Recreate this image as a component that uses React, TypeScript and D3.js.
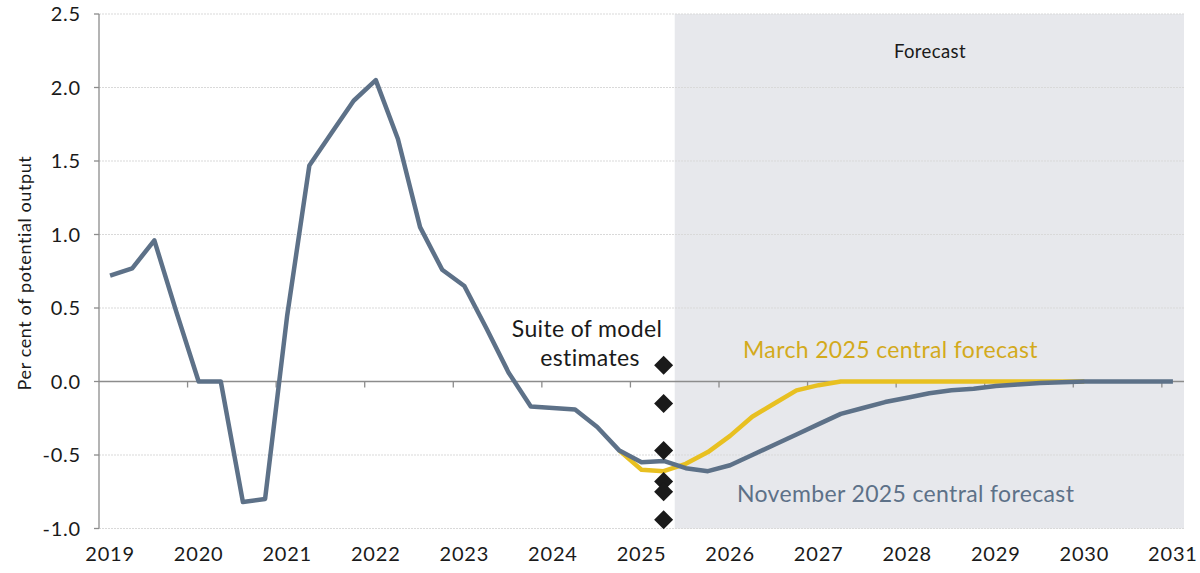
import React from "react";
import * as d3 from "d3";

const years = [2019, 2020, 2021, 2022, 2023, 2024, 2025, 2026, 2027, 2028, 2029, 2030, 2031];
const quarters: string[] = [];
for (let y = 2019; y <= 2031; y++) {
  for (let q = 1; q <= 4; q++) {
    if (y === 2031 && q > 1) break;
    quarters.push(`${y}Q${q}`);
  }
}

const november = [
  0.72, 0.77, 0.96, 0.47, 0.0, 0.0, -0.82, -0.8, 0.45, 1.47, 1.69, 1.91, 2.05,
  1.65, 1.05, 0.76, 0.65, 0.36, 0.06, -0.17, -0.18, -0.19, -0.31, -0.47, -0.55,
  -0.54, -0.59, -0.61, -0.57, -0.5, -0.43, -0.36, -0.29, -0.22, -0.18, -0.14,
  -0.11, -0.08, -0.06, -0.05, -0.03, -0.02, -0.01, -0.005, 0, 0, 0, 0, 0,
];

const marchQuarters = quarters.slice(23, 45);
const march = [
  -0.47, -0.6, -0.61, -0.56, -0.48, -0.37, -0.24, -0.15, -0.06, -0.025, 0, 0, 0,
  0, 0, 0, 0, 0, 0, 0, 0, 0,
];

const suiteQuarter = "2025Q2";
const suiteEstimates = [0.11, -0.15, -0.47, -0.68, -0.75, -0.94];
const forecastStart = "2025Q3";

const yTicks = [-1.0, -0.5, 0.0, 0.5, 1.0, 1.5, 2.0, 2.5];

const W = 1200;
const H = 573;
const left = 99;
const right = 1184;
const top = 14;
const bottom = 528.5;

const FONT = "Lato, 'Noto Sans', sans-serif";
const GREY = "#5d7188";
const GOLD = "#e8c021";

export default function App() {
  const x = d3.scaleBand<string>().domain(quarters).range([left, right]).padding(0);
  const y = d3.scaleLinear().domain([-1, 2.5]).range([bottom, top]);
  const cx = (q: string) => (x(q) as number) + x.bandwidth() / 2;

  const line = d3
    .line<[string, number]>()
    .x((d) => cx(d[0]))
    .y((d) => y(d[1]));

  const novPath = line(quarters.map((q, i) => [q, november[i]] as [string, number])) || "";
  const marPath = line(marchQuarters.map((q, i) => [q, march[i]] as [string, number])) || "";

  const fx = x(forecastStart) as number;
  const dsize = 9.5;

  return (
    <svg
      width={W}
      height={H}
      style={{ position: "absolute", left: 0, top: 0, background: "#fff" }}
      fontFamily={FONT}
    >
      {/* forecast shading */}
      <rect x={fx} y={y(2.5)} width={right - fx} height={y(-1) - y(2.5)} fill="#e7e8ec" />

      {/* gridlines */}
      {yTicks
        .filter((t) => t !== 0)
        .map((t) => (
          <line
            key={t}
            x1={left}
            x2={right}
            y1={y(t)}
            y2={y(t)}
            stroke="#d9d9d9"
            strokeWidth={1}
            strokeDasharray="2,1"
          />
        ))}

      {/* y axis */}
      <line x1={left} x2={left} y1={y(2.5)} y2={y(-1)} stroke="#8c8c8c" strokeWidth={1.3} />
      {yTicks.map((t) => (
        <g key={t}>
          <line x1={left - 5} x2={left} y1={y(t)} y2={y(t)} stroke="#8c8c8c" strokeWidth={1.3} />
          <text
            x={81}
            y={y(t)}
            dy="0.35em"
            textAnchor="end"
            fontSize={20}
            letterSpacing={0.8}
            fill="#1a1a1a"
          >
            {t.toFixed(1)}
          </text>
        </g>
      ))}

      {/* zero axis with year ticks */}
      <line x1={left} x2={right} y1={y(0)} y2={y(0)} stroke="#8c8c8c" strokeWidth={1.3} />
      {years.slice(1).map((yr) => {
        const xx = x(`${yr}Q1`) as number;
        return (
          <line key={yr} x1={xx} x2={xx} y1={y(0)} y2={y(0) + 6} stroke="#8c8c8c" strokeWidth={1.3} />
        );
      })}

      {/* year labels */}
      {years.map((yr) => (
        <text
          key={yr}
          x={cx(`${yr}Q1`)}
          y={561}
          textAnchor="middle"
          fontSize={20}
          letterSpacing={0.8}
          fill="#1a1a1a"
        >
          {yr}
        </text>
      ))}

      {/* y label */}
      <text
        transform={`translate(31, ${273}) rotate(-90)`}
        textAnchor="middle"
        fontSize={18}
        letterSpacing={0.6}
        fill="#1a1a1a"
      >
        Per cent of potential output
      </text>

      {/* lines */}
      <path d={marPath} fill="none" stroke={GOLD} strokeWidth={4.5} strokeLinejoin="round" />
      <path d={novPath} fill="none" stroke={GREY} strokeWidth={4.5} strokeLinejoin="round" />

      {/* suite diamonds */}
      {suiteEstimates.map((v, i) => {
        const px = cx(suiteQuarter);
        const py = y(v);
        return (
          <path
            key={i}
            d={`M${px},${py - dsize} L${px + dsize},${py} L${px},${py + dsize} L${px - dsize},${py} Z`}
            fill="#1a1a1a"
          />
        );
      })}

      {/* annotations */}
      <text x={930} y={58} textAnchor="middle" fontSize={18.5} letterSpacing={0.4} fill="#1a1a1a">
        Forecast
      </text>
      <text x={587} y={337} textAnchor="middle" fontSize={23} letterSpacing={0.35} fill="#1a1a1a">
        Suite of model
      </text>
      <text x={590} y={366} textAnchor="middle" fontSize={23} letterSpacing={0.35} fill="#1a1a1a">
        estimates
      </text>
      <text x={743} y={358} fontSize={23} letterSpacing={0.35} fill="#d3aa1c">
        March 2025 central forecast
      </text>
      <text x={737} y={502} fontSize={23} letterSpacing={0.35} fill={GREY}>
        November 2025 central forecast
      </text>
    </svg>
  );
}
